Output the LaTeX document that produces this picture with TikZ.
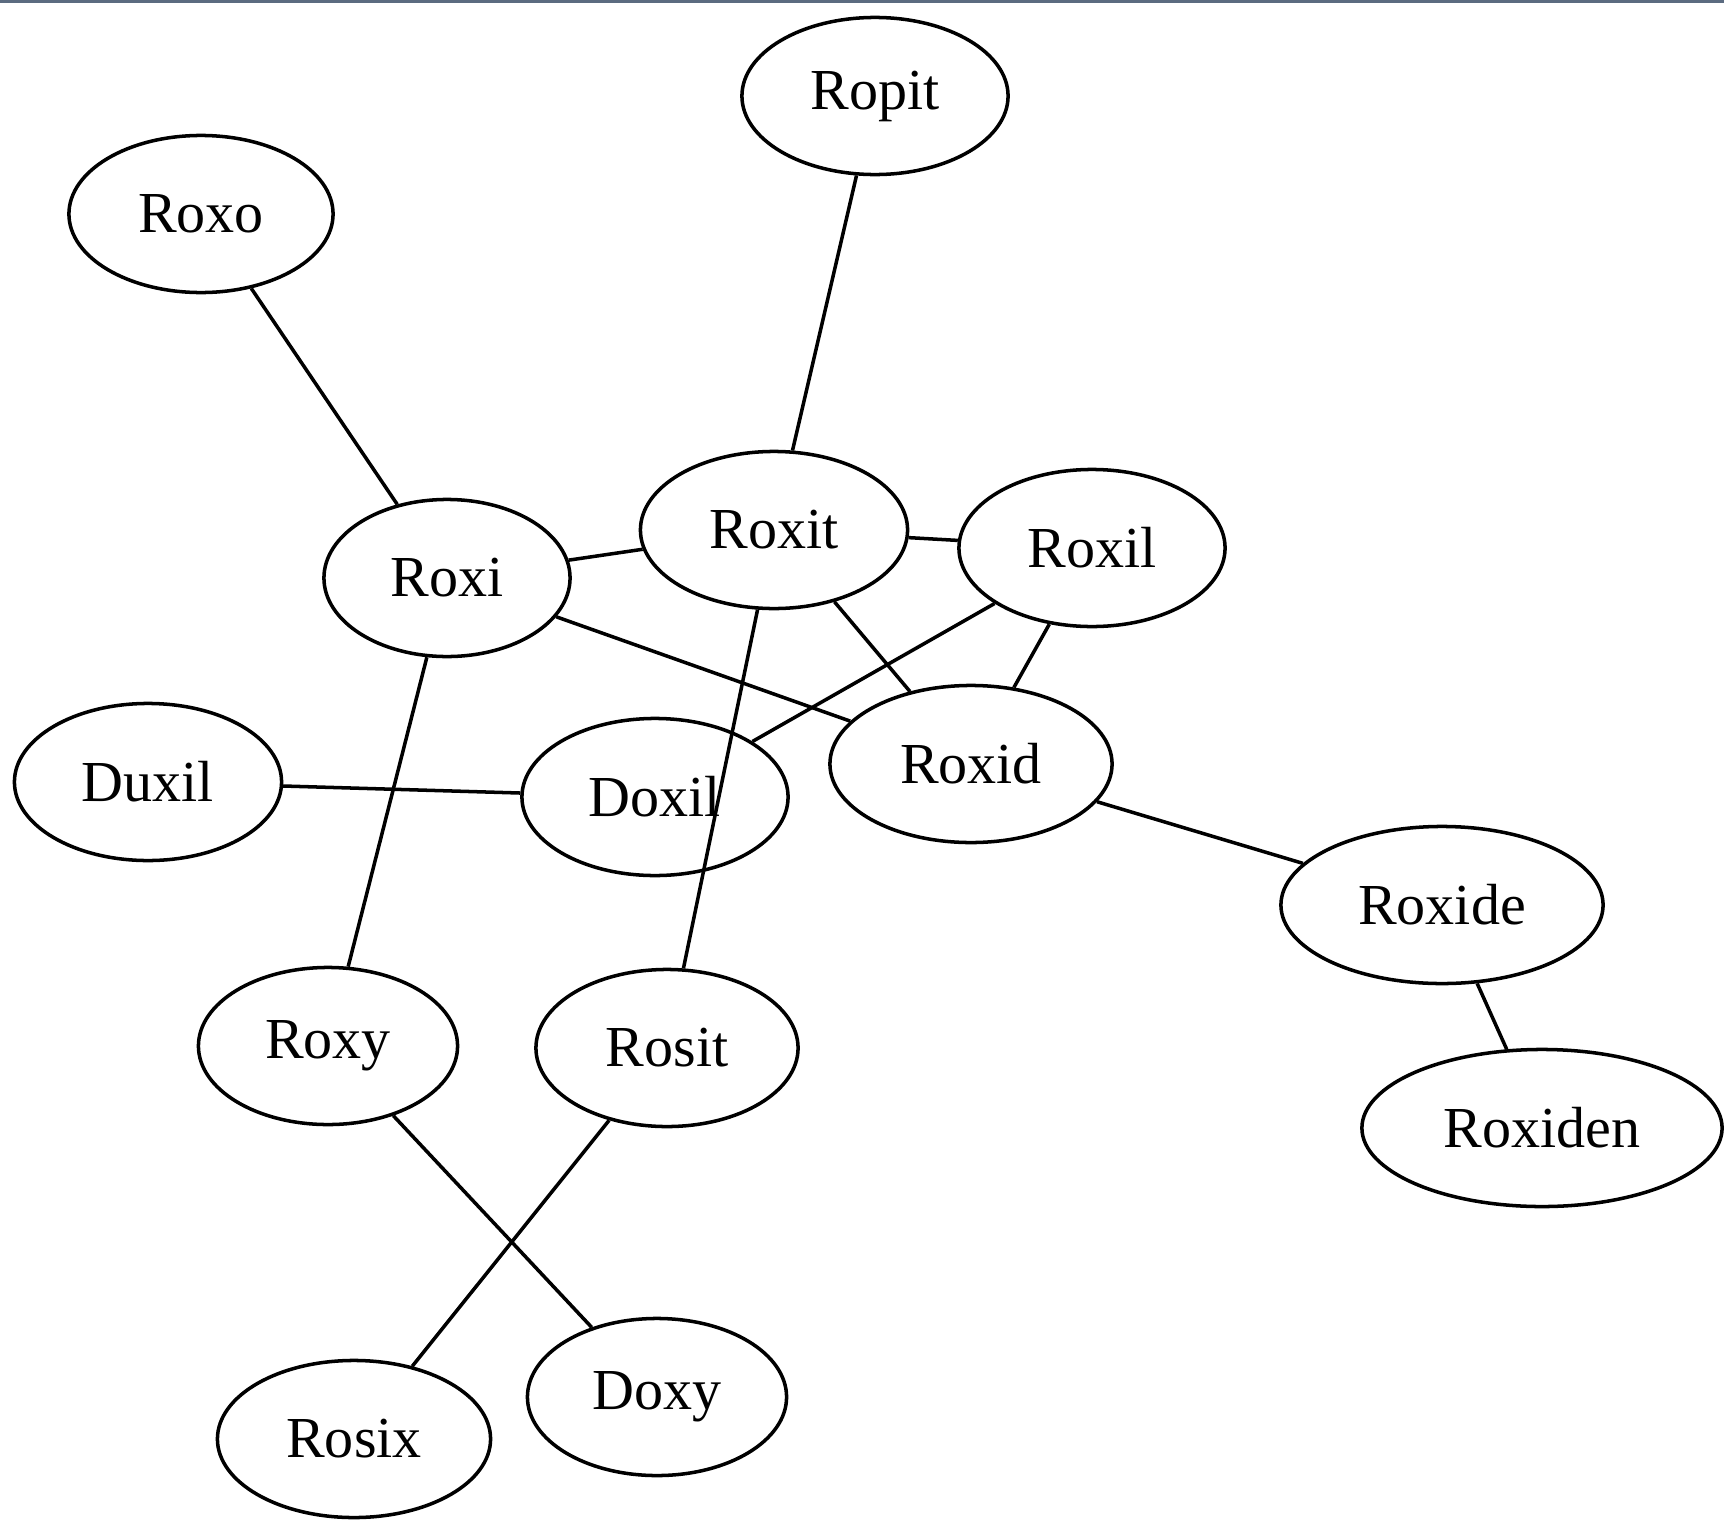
\documentclass[tikz,border=0pt]{standalone}
\usepackage{fontspec}
\setmainfont{Liberation Serif}
\usetikzlibrary{shapes.geometric}
\definecolor{topbar}{HTML}{5B6B80}

\begin{document}
\begin{tikzpicture}[x=0.01cm,y=-0.01cm,line width=1pt,
    word/.style={draw=black,ellipse,inner sep=0pt,minimum height=1.57cm,
      font=\fontsize{16.5}{20}\selectfont}]
    \useasboundingbox (0,0) rectangle (1724,1521);
    \fill [topbar] (0,0) rectangle (1724,3);
    \node [word,minimum width=2.66cm] (ropit) at (875,96) {Ropit};
    \node [word,minimum width=2.64cm] (roxo) at (201,214) {Roxo};
    \node [word,minimum width=2.46cm] (roxi) at (447,578) {Roxi};
    \node [word,minimum width=2.67cm] (roxit) at (774,530) {Roxit};
    \node [word,minimum width=2.66cm] (roxil) at (1092,548) {Roxil};
    \node [word,minimum width=2.67cm] (duxil) at (148,782) {Duxil};
    \node [word,minimum width=2.66cm] (doxil) at (655,797) {Doxil};
    \node [word,minimum width=2.82cm] (roxid) at (971,764) {Roxid};
    \node [word,minimum width=3.22cm] (roxide) at (1442,905) {Roxide};
    \node [word,minimum width=3.60cm] (roxiden) at (1542,1128) {Roxiden};
    \node [word,minimum width=2.59cm] (roxy) at (328,1046) {Roxy};
    \node [word,minimum width=2.62cm] (rosit) at (667,1048) {Rosit};
    \node [word,minimum width=2.73cm] (rosix) at (354,1439) {Rosix};
    \node [word,minimum width=2.59cm] (doxy) at (657,1397) {Doxy};
    % links
    \draw (ropit) -- (roxit);
    \draw (roxo) -- (roxi);
    \draw (roxi) -- (roxit);
    \draw (roxit) -- (roxil);
    \draw (roxi) -- (roxid);
    \draw (roxit) -- (roxid);
    \draw (roxil) -- (roxid);
    \draw (roxil) -- (doxil);
    \draw (duxil) -- (doxil);
    \draw (roxit) -- (rosit);
    \draw (roxi) -- (roxy);
    \draw (roxid) -- (roxide);
    \draw (roxide) -- (roxiden);
    \draw (roxy) -- (doxy);
    \draw (rosit) -- (rosix);
\end{tikzpicture}
\end{document}
